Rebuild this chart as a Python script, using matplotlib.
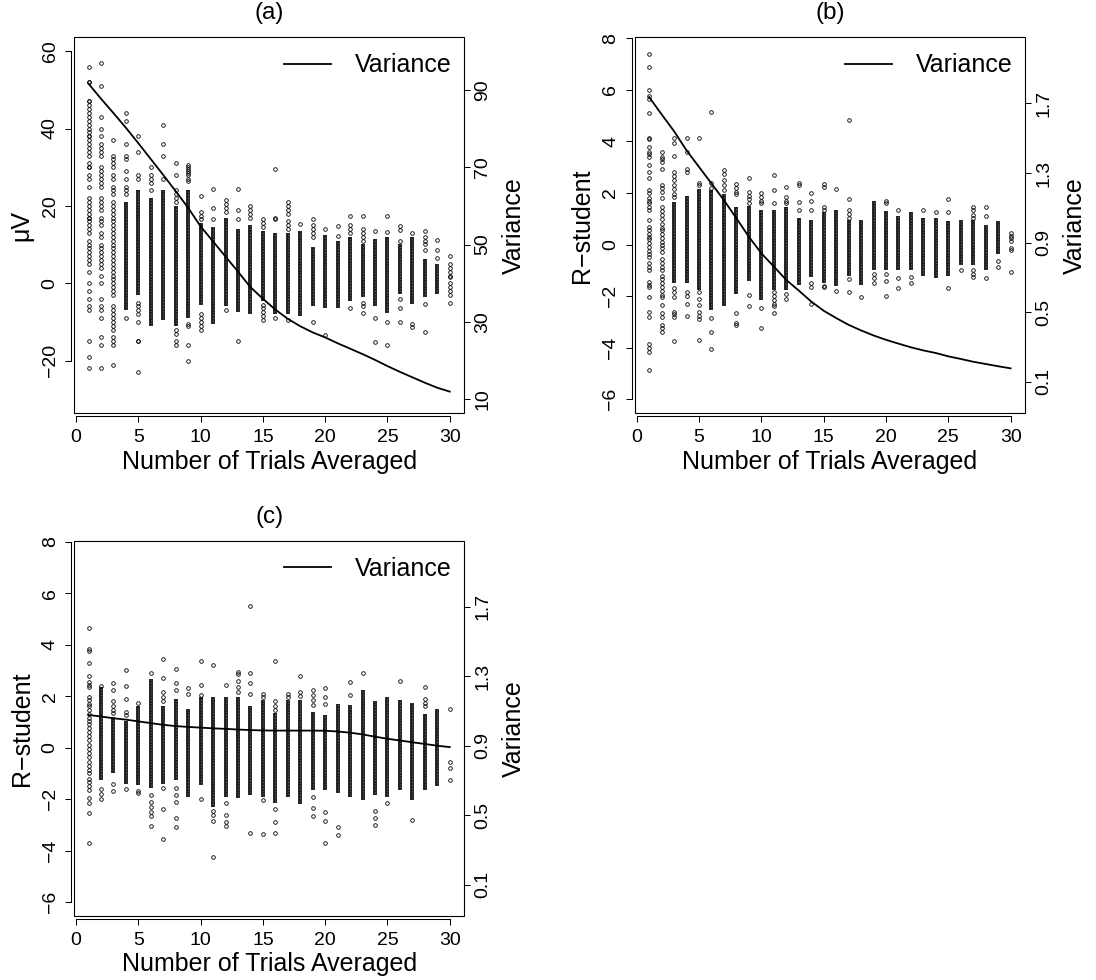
import matplotlib
matplotlib.use("Agg")
import matplotlib.pyplot as plt
from matplotlib.patches import Rectangle

plt.rcParams['font.family'] = ['Liberation Sans', 'DejaVu Sans']

TRIALS = list(range(1, 31))
XTICKS = [0, 5, 10, 15, 20, 25, 30]

# ---------------- panel (a): raw averages (uV) ----------------
A_VAR = [91.6, 87.7, 84.0, 80.2, 76.2, 72.1, 68.0, 63.8, 59.5, 54.7,
         50.8, 46.9, 43.0, 39.0, 36.0, 33.2, 30.8, 28.9, 27.3, 26.0,
         24.5, 23.1, 21.7, 20.2, 18.6, 17.1, 15.7, 14.3, 13.0, 12.0]
# dense core of each column (None = no dense core)
A_LO = [None, None, None, -7, -3, -11, -9.5, -11, -9, -5.5,
        -10.5, -6, -7.5, -8, -4.5, -8, -8, -8.5, -6, -6.5,
        -6.5, -4.5, -3.5, -6, -7.8, -2.7, -5.3, -3.5, -2.7, None]
A_HI = [None, None, None, 21, 24, 22, 24, 20, 24, 15.5,
        14.5, 17, 14, 15, 13.5, 13, 13, 13.5, 9.5, 12.5,
        11, 12, 10.2, 11.5, 12, 10.2, 12, 6.4, 5.1, None]
# individually visible points of each column
A_PTS = [
    [56, 52, 52, 47, 47, 46, 45, 44, 43, 42, 41, 40, 39, 38, 38, 37, 36, 35, 34, 33,
     31, 30, 30, 28, 27, 25, 22, 21, 20, 19, 18, 17, 17, 16, 15, 14, 13, 11, 10, 9,
     8, 7, 6, 5, 3, 0, -2, -4, -6, -7, -15, -19, -22],
    [57, 51, 43, 40, 38, 36, 35, 34, 33, 30, 29, 28, 27, 26, 25, 22, 21, 20, 19, 17,
     16, 15, 13, 12, 10, 9, 8, 7, 6, 5, 4, 2, 0, -4, -6, -7, -9, -14, -16, -22],
    [37, 33, 32, 31, 30, 28, 27, 25, 24, 23, 21, 20, 19, 18, 17, 16, 15, 14, 13, 12,
     11, 10, 9, 8, 7, 6, 5, 4, 3, 2, 1, 0, -1, -2, -3, -6, -7, -8, -9, -10,
     -11, -12, -14, -15, -16, -21],
    [44, 42, 36, 33, 32, 29, 27, 25, 24, 23, -9],
    [38, 34, 28, 27, -5, -6, -7, -8, -10, -15, -15, -23],
    [30, 28, 27, 26, 24],
    [41, 36, 33, 27],
    [31, 28, 24, 23, 22, 21, -12, -13, -15, -16],
    [30.5, 30, 29.5, 29, 28.5, 28, 27, 26.5, -10.5, -11, -16, -20],
    [22.5, 18.5, 17.5, 16.5, -8, -9, -10, -11, -12],
    [24.5, 19.5, 16.5],
    [21.5, 20.5, 19.5, 18.5, -7],
    [24.5, 19, 16.5, -15],
    [20, 19, 18, 17],
    [16.5, 15.5, 14.5, -5.5, -6.5, -7.5, -8.5, -9.5],
    [29.5, 17, 16.5, -9],
    [21, 20, 19, 18, 16, 15, 14, -9.5],
    [15.2],
    [16.5, 15, 14, 13, 12, -10],
    [14, -13.3],
    [14.7, 12.2],
    [17.3, 15, 14, 13, -6.3],
    [17.3, 14, 13, 12, 11, -5, -6, -7.8],
    [13.5, -9, -15.2],
    [17.5, 13.2, -10, -16],
    [14.7, 13.7, 11, -4, -6.5, -10],
    [13.1, -10.4, -11.3],
    [13.4, 12, 11, 10.2, 8.5, -5.3, -12.6],
    [11.1, 8.5, 6.5],
    [7, 5, 4, 3, 2, 1.5, 0, -1, -2, -3, -5],
]

# ---------------- panel (b): R-student, before adjustment ----------------
B_VAR = [1.736, 1.637, 1.54, 1.43, 1.335, 1.24, 1.144, 1.04, 0.934, 0.839,
         0.763, 0.686, 0.625, 0.562, 0.509, 0.467, 0.428, 0.396, 0.367, 0.342,
         0.32, 0.299, 0.281, 0.266, 0.247, 0.232, 0.216, 0.203, 0.19, 0.178]
B_LO = [None, None, -1.5, -1.5, -1.75, -2.55, -2.4, -1.9, -1.4, -2.15,
        -1.75, -1.75, -1.55, -1.25, -1.5, -1.6, -1.2, -1.55, -1.0, -1.0,
        -1.0, -1.0, -1.2, -1.3, -1.2, -0.8, -0.8, -1.0, -0.35, None]
B_HI = [None, None, 1.65, 1.9, 2.15, 2.1, 1.95, 1.45, 1.5, 1.35,
        1.35, 1.45, 1.05, 0.95, 1.25, 1.35, 0.95, 0.95, 1.7, 1.3,
        1.1, 1.25, 1.05, 1.05, 0.9, 0.95, 0.95, 0.75, 0.9, None]
B_PTS = [
    [7.4, 6.9, 6.0, 5.75, 5.65, 5.1, 4.15, 4.1, 3.8, 3.6, 3.5, 3.4, 3.1, 2.8, 2.6,
     2.1, 2.0, 1.8, 1.7, 1.6, 1.45, 1.35, 0.95, 0.7, 0.55, 0.4, 0.3, 0.2, 0.05,
     -0.1, -0.25, -0.35, -0.5, -0.7, -0.85, -1.0, -1.45, -1.55, -1.65, -2.05,
     -2.6, -2.8, -3.85, -4.0, -4.15, -4.85],
    [3.6, 3.4, 3.3, 3.2, 2.95, 2.3, 2.2, 2.05, 1.8, 1.45, 1.3, 1.15, 1.0, 0.8, 0.65,
     0.55, 0.4, 0.25, 0.1, 0.0, -0.15, -0.3, -0.55, -0.7, -0.85, -1.0, -1.2, -1.35,
     -1.5, -1.65, -1.8, -1.95, -2.05, -2.35, -2.65, -2.8, -3.1, -3.25, -3.4],
    [4.15, 3.95, 3.45, 2.8, 2.65, 2.5, 2.3, 2.15, 1.95, 1.85, -1.7, -1.85, -2.05,
     -2.6, -2.7, -2.8, -3.75],
    [4.15, 3.6, 2.95, 2.8, -1.85, -2.0, -2.3, -2.75],
    [4.15, 2.4, 2.3, -1.85, -2.1, -2.35, -2.6, -2.75, -2.9, -3.7],
    [5.15, 2.4, 2.2, -2.85, -3.4, -4.05],
    [2.9, 2.75, 2.5, 2.3, 2.1],
    [2.35, 2.2, 2.05, 1.95, -2.65, -3.05, -3.1],
    [2.6, 2.05, 1.9, 1.75, 1.6, -1.95, -2.4],
    [2.0, 1.85, 1.7, 1.6, -2.45, -3.25],
    [2.7, 2.1, 1.6, -1.85, -2.0, -2.15, -2.3, -2.4, -2.65],
    [2.25, 1.85, 1.7, 1.6, -1.9, -2.1],
    [2.4, 2.3, 1.65, 1.35],
    [2.0, 1.7, 1.35, -1.5, -1.65, -2.3],
    [2.35, 2.25, 1.45, 1.35, -1.6, -1.65],
    [2.15, -1.8],
    [4.85, 1.75, 1.35, 1.2, 1.05, -1.35, -1.85],
    [-2.05],
    [-1.15, -1.3, -1.5],
    [1.7, 1.6, -1.15, -1.4, -2.0],
    [1.35, -1.3, -1.7],
    [-1.25, -1.5],
    [1.35],
    [1.25],
    [1.75, 1.25, -1.7],
    [-1.0],
    [1.45, 1.35, 1.15, 1.05, -1.0, -1.15, -1.25],
    [1.45, 1.1, -1.3],
    [-0.65, -0.85],
    [0.45, 0.35, 0.25, 0.15, -0.15, -0.2, -1.05],
]

# ---------------- panel (c): R-student, after adjustment ----------------
C_VAR = [1.077, 1.068, 1.058, 1.05, 1.04, 1.03, 1.02, 1.013, 1.008, 1.004,
         1.0, 0.997, 0.993, 0.99, 0.988, 0.987, 0.987, 0.987, 0.987, 0.986,
         0.982, 0.975, 0.965, 0.952, 0.94, 0.93, 0.92, 0.91, 0.90, 0.892]
C_LO = [None, -1.25, -1.0, -1.4, -1.45, -1.55, -1.4, -1.25, -1.9, -1.45,
        -2.3, -1.9, -1.95, -1.85, -1.9, -2.15, -1.9, -2.2, -1.65, -1.65,
        -1.75, -1.9, -2.05, -1.85, -1.9, -1.65, -2.05, -1.65, -1.5, None]
C_HI = [None, 2.35, 1.2, 1.05, 1.6, 2.65, 1.6, 1.9, 1.5, 1.95,
        1.95, 1.95, 1.95, 1.6, 1.85, 1.35, 1.85, 1.85, 1.4, 1.25,
        1.7, 1.65, 2.25, 1.8, 1.95, 1.85, 1.75, 1.3, 1.5, None]
C_PTS = [
    [4.65, 3.85, 3.75, 3.3, 2.8, 2.55, 2.45, 2.35, 1.95, 1.85, 1.7, 1.6, 1.45, 1.3,
     1.15, 1.05, 0.9, 0.75, 0.6, 0.45, 0.3, 0.1, -0.05, -0.2, -0.35, -0.55, -0.7,
     -0.85, -1.0, -1.2, -1.35, -1.5, -1.65, -1.95, -2.15, -2.55, -3.7],
    [2.4, -1.6, -1.8, -2.0],
    [2.5, 2.25, 1.8, 1.6, 1.45, 1.35, -1.4, -1.7],
    [3.0, 2.4, 1.9, 1.4, 1.25, -1.6],
    [1.75, -1.7, -1.75],
    [2.9, -1.85, -2.1, -2.3, -2.5, -2.65, -3.05],
    [3.45, 2.7, 2.15, 1.95, 1.8, -1.55, -2.4, -3.55],
    [3.05, 2.5, 2.25, -1.55, -1.85, -2.1, -2.75, -3.1],
    [2.3, 2.1],
    [3.35, 2.45, 2.05, -2.0],
    [3.2, -2.45, -2.6, -2.85, -4.25],
    [2.45, -2.15, -2.6, -2.9, -3.05],
    [2.95, 2.85, 2.6, 2.35, 2.15],
    [5.5, 2.9, 2.5, 2.1, -3.3],
    [2.1, 1.95, -2.05, -3.35],
    [3.35, 1.8, 1.6, 1.45, -2.4, -2.9, -3.3],
    [2.1, 1.95],
    [2.8, 2.15, 2.0],
    [2.25, 2.05, 1.85, 1.65, -1.9, -2.35, -2.65],
    [2.3, 1.95, 1.7, -2.5, -2.85, -3.7],
    [-3.1, -3.4],
    [2.55, 2.05],
    [2.9],
    [-2.45, -2.75, -3.0],
    [-2.15],
    [2.6],
    [-2.8],
    [2.35, 1.9, 1.75, 1.6],
    [],
    [1.5, -0.55, -0.8, -1.25],
]

RS_TICKS = [-6, -4, -2, 0, 2, 4, 6, 8]
RS_VTICKS = [0.1, 0.5, 0.9, 1.3, 1.7]

TICK_FS = 14
LAB_FS = 18


def panel(fig, rect, title, ylabel, ylim, yticks, var, vlim, vticks,
          lo, hi, pts):
    ax = fig.add_axes(rect)
    for x, l, h, p in zip(TRIALS, lo, hi, pts):
        if l is not None:
            # dense stack of open circles: dark band with light speckle
            ax.vlines(x, l, h, color="#1e1e1e", lw=2.8)
            ax.vlines(x, l, h, color="white", lw=0.6, alpha=0.45,
                      linestyles=(0, (1, 2.5)))
        ax.plot([x] * len(p), p, "o", mfc="none", mec="k", ms=2.6, mew=0.6)
    ax.set_xlim(-0.16, 31.16)
    ax.set_ylim(*ylim)
    ax.set_xticks(XTICKS)
    ax.set_yticks(yticks)
    for s in ("top", "right"):
        ax.spines[s].set_visible(False)
    for s in ("left", "bottom"):
        ax.spines[s].set_position(("outward", 2.2))
        ax.spines[s].set_linewidth(0.75)
    ax.spines["left"].set_bounds(yticks[0], yticks[-1])
    ax.spines["bottom"].set_bounds(XTICKS[0], XTICKS[-1])
    ax.tick_params(axis="x", length=4.4, width=0.75, labelsize=TICK_FS, pad=5)
    ax.tick_params(axis="y", length=4.4, width=0.75, labelsize=TICK_FS, pad=4.5,
                   labelrotation=90)
    for t in ax.get_yticklabels():
        t.set_va("center")
    ax.add_patch(Rectangle((0, 0), 1, 1, transform=ax.transAxes, fill=False,
                           lw=0.8, ec="k", clip_on=False, zorder=5))
    ax.set_xlabel("Number of Trials Averaged", fontsize=LAB_FS, va="center")
    ax.xaxis.set_label_coords(0.5, -0.129)
    ax.set_ylabel(ylabel, fontsize=LAB_FS, va="center")
    ax.yaxis.set_label_coords(-0.134, 0.5)
    ax.text(0.5, 1.064, title, transform=ax.transAxes, ha="center", va="center",
            fontsize=17.5)

    ax2 = ax.twinx()
    ax2.plot(TRIALS, var, color="k", lw=1.3, label="Variance")
    ax2.set_ylim(*vlim)
    ax2.set_yticks(vticks)
    ax2.set_yticklabels([f"{v:g}" for v in vticks])
    for s in ax2.spines.values():
        s.set_visible(False)
    ax2.tick_params(axis="y", length=4.4, width=0.75, labelsize=TICK_FS, pad=3,
                    labelrotation=90)
    for t in ax2.get_yticklabels():
        t.set_va("center")
    ax2.set_ylabel("Variance", fontsize=LAB_FS, va="center", rotation=90)
    ax2.yaxis.set_label_coords(1.127, 0.5)
    ax2.legend(loc="upper right", bbox_to_anchor=(0.968, 0.957), frameon=False,
               fontsize=18, handlelength=1.88, handletextpad=0.95,
               borderaxespad=0, borderpad=0)
    return ax


fig = plt.figure(figsize=(10.96, 9.8), dpi=100)

panel(fig, [0.0676, 0.5783, 0.3559, 0.3837], "(a)", "μV", (-33.6, 63.6),
      [-20, 0, 20, 40, 60], A_VAR, (6.4, 103.6), [10, 30, 50, 70, 90],
      A_LO, A_HI, A_PTS)
panel(fig, [0.5791, 0.5783, 0.3562, 0.3837], "(b)", "R\u2212student", (-6.54, 8.04),
      RS_TICKS, B_VAR, (-0.08, 2.08), RS_VTICKS, B_LO, B_HI, B_PTS)
panel(fig, [0.0676, 0.0653, 0.3559, 0.3830], "(c)", "R\u2212student", (-6.54, 8.04),
      RS_TICKS, C_VAR, (-0.08, 2.08), RS_VTICKS, C_LO, C_HI, C_PTS)

fig.savefig("out.png", dpi=100)
